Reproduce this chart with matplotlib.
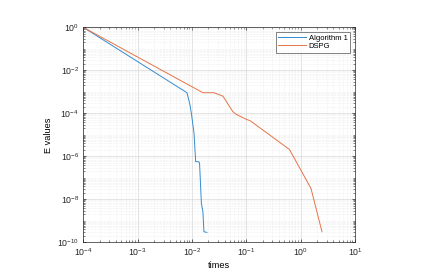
import matplotlib
matplotlib.use("Agg")
import matplotlib.pyplot as plt
from matplotlib.ticker import LogLocator, NullFormatter, FixedLocator

alg1_t = [1e-4, 8.09e-3, 9.08e-3, 9.75e-3, 0.0109, 0.0117, 0.0134, 0.0138, 0.0149, 0.0159, 0.0166, 0.0188]
alg1_e = [1.0, 9.1e-4, 2.9e-4, 1.0e-4, 1.2e-5, 5.6e-7, 5.6e-7, 4.7e-7, 6.5e-9, 2.6e-9, 3.1e-10, 2.9e-10]

dspg_t = [1e-4, 0.0159, 0.0254, 0.0371, 0.0565, 0.0653, 0.0995, 0.118, 0.621, 1.55, 2.47]
dspg_e = [1.0, 9.1e-4, 9.1e-4, 6.3e-4, 1.2e-4, 8.9e-5, 5.3e-5, 4.5e-5, 2.1e-6, 3.2e-8, 3.1e-10]

labels = ["Algorithm 1", "DSPG"]
colors = [(0.2, 0.55, 0.82), (0.9, 0.45, 0.28)]

plt.rcParams['font.family'] = ['Liberation Sans', 'DejaVu Sans']
fs = 6.3

fig = plt.figure(figsize=(4.26, 2.79), dpi=100)
ax = fig.add_axes([0.1955, 0.1315, 0.8333 - 0.1955, 0.902 - 0.1315])
ax.loglog(alg1_t, alg1_e, color=colors[0], lw=0.7, label=labels[0])
ax.loglog(dspg_t, dspg_e, color=colors[1], lw=0.7, label=labels[1])
ax.set_xlim(1e-4, 10)
ax.set_ylim(1e-10, 1)
ax.xaxis.set_major_locator(LogLocator(base=10, numticks=20))
ax.yaxis.set_major_locator(FixedLocator([10.0**k for k in range(-10, 1, 2)]))
ax.xaxis.set_minor_locator(LogLocator(base=10, subs=range(2, 10), numticks=20))
ax.yaxis.set_minor_locator(LogLocator(base=10, subs=range(1, 10), numticks=30))
ax.yaxis.set_minor_formatter(NullFormatter())
ax.xaxis.set_minor_formatter(NullFormatter())
ax.grid(True, which='major', color='#d9d9d9', lw=0.5)
ax.grid(True, which='minor', color='#e3e3e3', lw=0.4, ls=':')
ax.set_axisbelow(True)
ax.tick_params(which='both', direction='in', top=True, right=True, labelsize=fs, colors='#262626')
ax.tick_params(which='major', length=2.5, width=0.5, pad=3)
ax.tick_params(which='minor', length=1.3, width=0.4)
for s in ax.spines.values():
    s.set_linewidth(0.5)
    s.set_color('#262626')
ax.set_xlabel("times", fontsize=fs + 0.3, labelpad=2)
ax.set_ylabel("E values", fontsize=fs + 0.3, labelpad=3)
leg = ax.legend(loc='upper right', fontsize=fs - 0.8, frameon=True, fancybox=False,
                edgecolor='#262626', borderpad=0.35, handlelength=3.6, handletextpad=0.4,
                labelspacing=0.1, borderaxespad=0.6)
leg.get_frame().set_linewidth(0.5)
fig.savefig("out.png", dpi=100)
